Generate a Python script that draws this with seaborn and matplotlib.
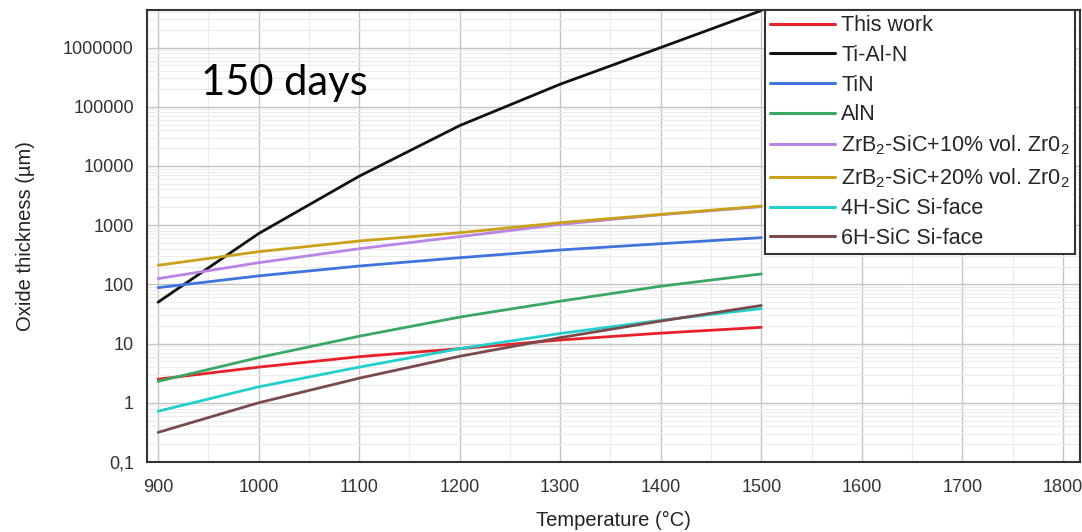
import numpy as np
import pandas as pd
import matplotlib
matplotlib.use("Agg")
import matplotlib.pyplot as plt
import matplotlib.ticker as mticker
import seaborn as sns

temperature = [900, 1000, 1100, 1200, 1300, 1400, 1500]
series_names = [
    "This work", "Ti-Al-N", "TiN", "AlN",
    "ZrB$_2$-SiC+10% vol. Zr0$_2$", "ZrB$_2$-SiC+20% vol. Zr0$_2$",
    "4H-SiC Si-face", "6H-SiC Si-face",
]
this_work = [2.5, 4.0, 6.0, 8.2, 11.5, 15.0, 18.8]
ti_al_n = [50, 720, 6700, 48000, 240000, 1000000, 4200000]
tin = [88, 139, 204, 282, 381, 486, 615]
aln = [2.3, 5.8, 13.3, 28, 52, 93, 150]
zrb2_10 = [125, 232, 400, 640, 1030, 1500, 2050]
zrb2_20 = [210, 356, 540, 745, 1100, 1520, 2100]
sic_4h = [0.72, 1.86, 4.0, 8.2, 14.8, 24.7, 39]
sic_6h = [0.316, 1.0, 2.6, 6.1, 12.6, 24.0, 44]
colors = ["#e8202a", "#111111", "#3f74dc", "#3aa864",
          "#b884e6", "#c9a21a", "#22cfcc", "#7b4a4c"]

ytick_vals = [0.1, 1, 10, 100, 1000, 10000, 100000, 1000000]
ytick_labels = ["0,1", "1", "10", "100", "1000", "10000", "100000", "1000000"]
xtick_vals = [900, 1000, 1100, 1200, 1300, 1400, 1500, 1600, 1700, 1800]

all_vals = [this_work, ti_al_n, tin, aln, zrb2_10, zrb2_20, sic_4h, sic_6h]
df = pd.DataFrame({
    "Temperature": np.tile(temperature, len(series_names)),
    "Thickness": np.concatenate(all_vals),
    "Series": np.repeat(series_names, len(temperature)),
})

sns.set_style("white")
plt.rcParams["font.family"] = ["Liberation Sans", "DejaVu Sans"]
plt.rcParams["mathtext.fontset"] = "custom"
plt.rcParams["mathtext.rm"] = "Liberation Sans"
plt.rcParams["mathtext.it"] = "Liberation Sans"

fig = plt.figure(figsize=(10.82, 5.32), dpi=100)
ax = fig.add_axes([147 / 1082, 1 - 462 / 532, 933 / 1082, 452 / 532])

sns.lineplot(data=df, x="Temperature", y="Thickness", hue="Series",
             hue_order=series_names, palette=colors, linewidth=2.0, ax=ax)

ax.set_yscale("log")
ax.set_ylim(0.1, 4.3e6)
ax.set_xlim(889, 1817)
ax.set_yticks(ytick_vals)
ax.set_yticklabels(ytick_labels)
ax.yaxis.set_minor_locator(mticker.LogLocator(base=10, subs=np.arange(2, 10), numticks=20))
ax.yaxis.set_minor_formatter(mticker.NullFormatter())
ax.set_xticks(xtick_vals)
ax.xaxis.set_minor_locator(mticker.MultipleLocator(50))

ax.grid(True, which="major", color="#c4c4c4", linewidth=1.0)
ax.grid(True, which="minor", color="#ececec", linewidth=0.8)
ax.set_axisbelow(True)

for s in ax.spines.values():
    s.set_color("#333333")
    s.set_linewidth(1.5)

ax.tick_params(axis="y", which="major", direction="out", length=5, width=1.2,
               labelsize=13, colors="#333333", labelcolor="#333333", pad=4.5)
ax.tick_params(axis="x", which="major", direction="out", length=4, width=1.2,
               labelsize=13, colors="#333333", labelcolor="#333333", pad=8)
ax.tick_params(axis="both", which="minor", direction="out", length=3, width=0.8,
               colors="#333333")

ax.set_xlabel("Temperature (°C)", fontsize=14.5, color="#222222", labelpad=11)
ax.set_ylabel("Oxide thickness (µm)", fontsize=14.5, color="#222222", labelpad=20)

ax.text(0.058, 0.812, "150 days", transform=ax.transAxes, fontsize=30,
        family=["Lato", "DejaVu Sans"], color="black", va="baseline", ha="left")

leg = ax.legend(loc="upper right", bbox_to_anchor=(0.995, 1.0), fontsize=15.5,
                frameon=True, fancybox=False, borderaxespad=0,
                handlelength=3.0, handletextpad=0.3, labelspacing=0.4,
                borderpad=0.25)
leg.get_frame().set_edgecolor("#333333")
leg.get_frame().set_linewidth(1.5)
leg.get_frame().set_alpha(1.0)
for line in leg.get_lines():
    line.set_linewidth(2.2)

fig.savefig("out.png", dpi=100)
